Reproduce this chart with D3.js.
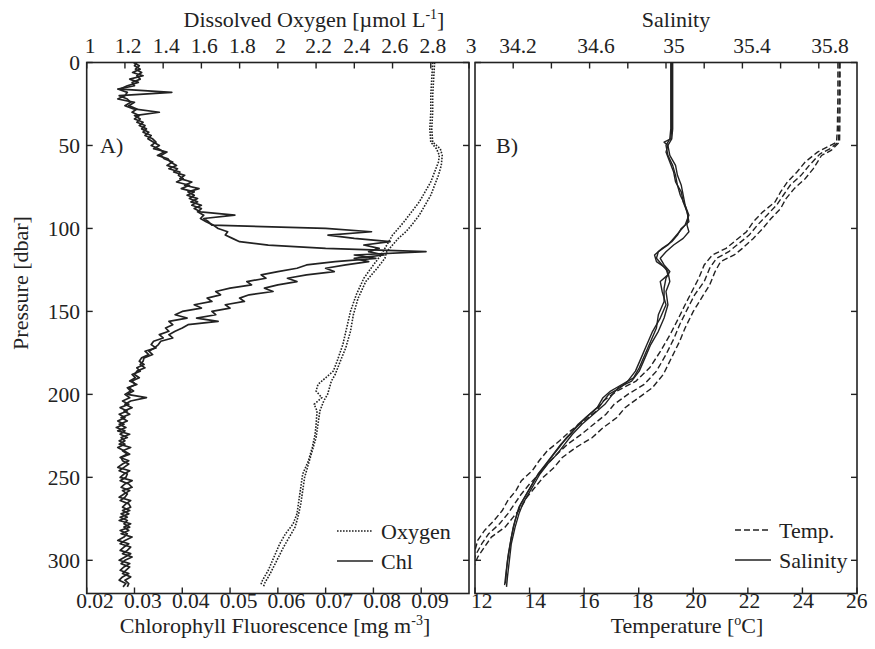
<!DOCTYPE html>
<html>
<head>
<meta charset="utf-8">
<script src="https://cdn.jsdelivr.net/npm/d3@7"></script>
<style>
  body { margin: 0; background: #fff; }
  svg text { font-family: "Liberation Serif", "Times New Roman", serif; fill: #222; }
</style>
</head>
<body>
<svg id="chart" width="875" height="649"></svg>
<script>
// pressure grid of the chlorophyll casts (dbar)
const chlDepth = d3.range(0, 318, 2);

// chlorophyll fluorescence, cast A and cast B (mg m-3), one value per chlDepth level
const chlA = [
  0.0305, 0.0300, 0.0312, 0.0296, 0.0318,  0.0290, 0.0308, 0.0285, 0.0270, 0.0378,
  0.0268, 0.0285, 0.0292, 0.0280, 0.0298,  0.0352, 0.0300, 0.0312, 0.0305, 0.0322,
  0.0315, 0.0330, 0.0322, 0.0338, 0.0345,  0.0335, 0.0350, 0.0362, 0.0348, 0.0370,
  0.0375, 0.0388, 0.0372, 0.0395, 0.0392,  0.0402, 0.0388, 0.0415, 0.0398, 0.0425,
  0.0410, 0.0432, 0.0418, 0.0440, 0.0425,  0.0438, 0.0510, 0.0445, 0.0455, 0.0462,
  0.0700, 0.0796, 0.0705, 0.0760, 0.0835,  0.0780, 0.0812, 0.0790, 0.0822, 0.0760,
  0.0790, 0.0742, 0.0700, 0.0718, 0.0660,  0.0620, 0.0640, 0.0600, 0.0572, 0.0590,
  0.0540, 0.0520, 0.0530, 0.0490, 0.0500,  0.0462, 0.0470, 0.0430, 0.0475, 0.0412,
  0.0400, 0.0385, 0.0372, 0.0380, 0.0355,  0.0350, 0.0342, 0.0330, 0.0338, 0.0320,
  0.0318, 0.0312, 0.0322, 0.0305, 0.0300,  0.0310, 0.0295, 0.0302, 0.0288, 0.0298,
  0.0285, 0.0325, 0.0292, 0.0280, 0.0295,  0.0278, 0.0290, 0.0272, 0.0285, 0.0268,
  0.0282, 0.0265, 0.0290, 0.0272, 0.0280,  0.0268, 0.0292, 0.0275, 0.0285, 0.0270,
  0.0288, 0.0275, 0.0265, 0.0290, 0.0278,  0.0270, 0.0295, 0.0280, 0.0272, 0.0290,
  0.0278, 0.0268, 0.0292, 0.0282, 0.0275,  0.0290, 0.0272, 0.0285, 0.0268, 0.0292,
  0.0278, 0.0288, 0.0272, 0.0295, 0.0280,  0.0270, 0.0292, 0.0285, 0.0275, 0.0295,
  0.0280, 0.0272, 0.0290, 0.0282, 0.0275,  0.0292, 0.0280, 0.0288, 0.0285
];
const chlB = [
  0.0298, 0.0310, 0.0302, 0.0315, 0.0305,  0.0312, 0.0295, 0.0300, 0.0265, 0.0285,
  0.0280, 0.0265, 0.0300, 0.0288, 0.0305,  0.0295, 0.0310, 0.0300, 0.0318, 0.0310,
  0.0325, 0.0318, 0.0335, 0.0328, 0.0340,  0.0352, 0.0340, 0.0368, 0.0355, 0.0362,
  0.0380, 0.0368, 0.0390, 0.0382, 0.0405,  0.0395, 0.0420, 0.0405, 0.0435, 0.0412,
  0.0425, 0.0415, 0.0432, 0.0420, 0.0440,  0.0432, 0.0445, 0.0438, 0.0450, 0.0465,
  0.0475, 0.0495, 0.0490, 0.0505, 0.0520,  0.0580, 0.0700, 0.0910, 0.0760, 0.0805,
  0.0720, 0.0660, 0.0640, 0.0600, 0.0565,  0.0575, 0.0535, 0.0545, 0.0500, 0.0470,
  0.0480, 0.0452, 0.0462, 0.0425, 0.0440,  0.0400, 0.0385, 0.0410, 0.0372, 0.0380,
  0.0365, 0.0372, 0.0352, 0.0360, 0.0340,  0.0335, 0.0345, 0.0322, 0.0330, 0.0315,
  0.0310, 0.0320, 0.0305, 0.0312, 0.0295,  0.0302, 0.0290, 0.0305, 0.0285, 0.0292,
  0.0280, 0.0290, 0.0275, 0.0288, 0.0270,  0.0285, 0.0268, 0.0280, 0.0265, 0.0278,
  0.0262, 0.0280, 0.0270, 0.0285, 0.0268,  0.0280, 0.0265, 0.0278, 0.0290, 0.0272,
  0.0275, 0.0288, 0.0278, 0.0268, 0.0285,  0.0282, 0.0270, 0.0288, 0.0295, 0.0275,
  0.0285, 0.0280, 0.0270, 0.0288, 0.0292,  0.0275, 0.0288, 0.0270, 0.0285, 0.0278,
  0.0290, 0.0270, 0.0285, 0.0278, 0.0265,  0.0288, 0.0278, 0.0270, 0.0292, 0.0280,
  0.0268, 0.0290, 0.0278, 0.0270, 0.0288,  0.0275, 0.0268, 0.0282, 0.0276
];

// dissolved oxygen casts, [pressure, value]
const oxygenA = [
  [0, 2.81], [10, 2.805], [20, 2.80], [30, 2.80], [40, 2.795], [48, 2.80], [52, 2.83], [56, 2.845],
  [60, 2.84], [66, 2.82], [72, 2.80], [78, 2.77], [84, 2.74], [90, 2.70], [96, 2.66], [100, 2.63],
  [104, 2.60], [108, 2.58], [112, 2.56], [116, 2.54], [122, 2.50], [130, 2.45], [140, 2.41],
  [150, 2.38], [160, 2.36], [170, 2.34], [180, 2.31], [186, 2.29], [190, 2.25], [194, 2.21],
  [198, 2.20], [202, 2.23], [206, 2.19], [210, 2.205], [218, 2.20], [224, 2.195], [232, 2.18],
  [240, 2.16], [248, 2.13], [256, 2.12], [264, 2.11], [272, 2.10], [278, 2.08], [284, 2.04],
  [290, 2.01], [298, 1.98], [306, 1.95], [312, 1.92], [315, 1.91]
];
const oxygenB = [
  [0, 2.82], [10, 2.815], [20, 2.81], [30, 2.81], [40, 2.805], [48, 2.81], [52, 2.85], [56, 2.86],
  [62, 2.855], [68, 2.84], [74, 2.82], [80, 2.80], [86, 2.77], [92, 2.74], [98, 2.70], [102, 2.67],
  [106, 2.63], [110, 2.60], [114, 2.57], [118, 2.56], [124, 2.52], [132, 2.46], [142, 2.42],
  [152, 2.395], [162, 2.38], [172, 2.355], [182, 2.32], [188, 2.30], [192, 2.28], [196, 2.27],
  [200, 2.26], [204, 2.24], [210, 2.22], [218, 2.21], [226, 2.20], [234, 2.18], [242, 2.16],
  [250, 2.14], [258, 2.13], [266, 2.12], [274, 2.105], [280, 2.09], [286, 2.06], [292, 2.03],
  [300, 1.995], [308, 1.96], [314, 1.93], [316, 1.925]
];

// temperature casts (degC), [pressure, value]
const temp1 = [
  [0, 25.30], [20, 25.30], [40, 25.28], [48, 25.25], [51, 24.9], [54, 24.55], [60, 24.1], [66, 23.8],
  [72, 23.45], [78, 23.2], [84, 23.0], [90, 22.55], [96, 22.2], [102, 21.95], [108, 21.5], [112, 21.2],
  [116, 20.7], [122, 20.4], [130, 20.2], [138, 19.95], [146, 19.7], [156, 19.4], [164, 19.15],
  [174, 18.8], [184, 18.4], [192, 17.9], [198, 17.2], [204, 16.7], [210, 16.45], [216, 16.0],
  [222, 15.5], [228, 15.1], [234, 14.65], [240, 14.35], [246, 14.1], [252, 13.7], [258, 13.5],
  [264, 13.2], [270, 13.0], [276, 12.7], [282, 12.35], [288, 12.1], [294, 12.0], [300, 11.9], [306, 11.8]
];
const temp2 = [
  [0, 25.35], [20, 25.35], [40, 25.33], [48, 25.32], [52, 25.0], [55, 24.65], [62, 24.25], [68, 23.95],
  [74, 23.55], [80, 23.3], [86, 23.05], [92, 22.7], [98, 22.35], [104, 22.05], [110, 21.6], [114, 21.3],
  [118, 20.85], [124, 20.6], [132, 20.4], [140, 20.05], [148, 19.8], [158, 19.5], [166, 19.3],
  [176, 19.0], [186, 18.65], [194, 18.2], [200, 17.6], [206, 17.1], [212, 16.8], [218, 16.35],
  [224, 15.9], [230, 15.4], [236, 15.0], [242, 14.65], [248, 14.35], [254, 14.0], [260, 13.7],
  [266, 13.45], [272, 13.2], [278, 12.9], [284, 12.5], [290, 12.25], [296, 12.05], [302, 11.9], [308, 11.8]
];
const temp3 = [
  [0, 25.38], [20, 25.38], [40, 25.37], [48, 25.36], [53, 25.05], [56, 24.7], [64, 24.4], [70, 24.1],
  [76, 23.7], [82, 23.4], [88, 23.2], [94, 22.85], [100, 22.55], [106, 22.2], [112, 21.8], [116, 21.5],
  [120, 21.0], [126, 20.8], [134, 20.6], [142, 20.3], [150, 20.0], [160, 19.7], [168, 19.5],
  [178, 19.2], [188, 18.9], [196, 18.5], [202, 18.0], [208, 17.5], [214, 17.2], [220, 16.7],
  [226, 16.3], [232, 15.7], [238, 15.2], [244, 14.9], [250, 14.5], [256, 14.2], [262, 13.9],
  [268, 13.7], [274, 13.4], [280, 13.1], [286, 12.6], [292, 12.35], [298, 12.1], [304, 11.95], [310, 11.85]
];

// salinity casts, [pressure, value]
const sal1 = [
  [0, 35.03], [20, 35.03], [40, 35.03], [46, 35.025], [48, 34.99], [50, 35.01], [54, 35.00], [60, 35.02],
  [66, 35.04], [72, 35.05], [78, 35.08], [84, 35.09], [90, 35.11], [96, 35.12], [100, 35.08], [104, 35.06],
  [108, 35.03], [112, 34.98], [116, 34.94], [120, 34.95], [124, 35.00], [128, 35.01], [132, 34.97],
  [138, 34.98], [146, 35.00], [154, 34.97], [162, 34.93], [170, 34.90], [178, 34.87], [186, 34.84],
  [192, 34.80], [196, 34.76], [200, 34.70], [206, 34.66], [212, 34.60], [218, 34.54], [224, 34.50],
  [230, 34.45], [236, 34.41], [242, 34.37], [248, 34.33], [254, 34.30], [260, 34.27], [266, 34.24],
  [272, 34.22], [280, 34.20], [290, 34.185], [300, 34.17], [310, 34.16], [315, 34.155]
];
const sal2 = [
  [0, 35.025], [20, 35.025], [40, 35.025], [46, 35.02], [50, 35.00], [56, 35.01], [62, 35.035], [68, 35.05],
  [74, 35.06], [80, 35.075], [86, 35.10], [92, 35.115], [98, 35.11], [102, 35.12], [106, 35.09], [110, 35.04],
  [114, 35.00], [118, 34.97], [122, 34.99], [126, 35.02], [130, 35.00], [136, 34.99], [144, 34.99],
  [152, 34.96], [160, 34.95], [168, 34.92], [176, 34.89], [184, 34.86], [190, 34.83], [196, 34.74],
  [198, 34.71], [202, 34.67], [208, 34.64], [214, 34.58], [220, 34.53], [226, 34.48], [232, 34.44],
  [238, 34.40], [244, 34.36], [250, 34.32], [256, 34.29], [262, 34.26], [268, 34.23], [276, 34.21],
  [286, 34.19], [296, 34.175], [306, 34.165], [314, 34.16]
];
const sal3 = [
  [0, 35.035], [20, 35.035], [40, 35.035], [46, 35.03], [50, 35.01], [56, 35.02], [62, 35.05], [68, 35.06],
  [74, 35.08], [80, 35.09], [86, 35.10], [92, 35.12], [98, 35.10], [102, 35.07], [106, 35.04], [110, 35.01],
  [114, 34.96], [118, 34.95], [122, 34.98], [126, 35.01], [132, 35.02], [138, 35.00], [146, 35.01],
  [154, 34.99], [162, 34.96], [170, 34.92], [178, 34.89], [186, 34.86], [192, 34.82], [196, 34.75],
  [200, 34.72], [206, 34.68], [212, 34.62], [218, 34.56], [224, 34.51], [230, 34.47], [236, 34.43],
  [242, 34.38], [248, 34.34], [254, 34.31], [260, 34.28], [266, 34.25], [272, 34.23], [280, 34.21],
  [290, 34.19], [300, 34.18], [310, 34.17], [316, 34.165]
];

// tick values
const pressureTicks = [0, 50, 100, 150, 200, 250, 300];
const oxygenTicks = [1, 1.2, 1.4, 1.6, 1.8, 2, 2.2, 2.4, 2.6, 2.8, 3];
const chlTicks = [0.02, 0.03, 0.04, 0.05, 0.06, 0.07, 0.08, 0.09];
const salinityTicks = [34.2, 34.6, 35, 35.4, 35.8];
const salinityMinorTicks = [34.2, 34.4, 34.6, 34.8, 35, 35.2, 35.4, 35.6, 35.8];
const tempTicks = [12, 14, 16, 18, 20, 22, 24, 26];

const svg = d3.select("#chart");
svg.append("rect").attr("width", 875).attr("height", 649).attr("fill", "#fff");

const yTop = 62.5, yBottom = 593.5;
const panelA = { x0: 86.7, x1: 469 };
const panelB = { x0: 475, x1: 857 };

const y = d3.scaleLinear().domain([0, 320]).range([yTop, yBottom]);
const xChl = d3.scaleLinear().domain([0.02, 0.1]).range([panelA.x0, panelA.x1]);
const xOx = d3.scaleLinear().domain([1, 3]).range([panelA.x0, panelA.x1]);
const xTemp = d3.scaleLinear().domain([12, 26]).range([panelB.x0, panelB.x1]);
const xSal = d3.scaleLinear().domain([34, 36]).range([panelB.x0, panelB.x1]);

const ink = "#222";
const tickLen = 6;
const tickFont = "21.5px";
const titleFont = "22px";

// clip regions for each panel
const defs = svg.append("defs");
defs.append("clipPath").attr("id", "clipA").append("rect")
  .attr("x", panelA.x0).attr("y", yTop).attr("width", panelA.x1 - panelA.x0).attr("height", yBottom - yTop);
defs.append("clipPath").attr("id", "clipB").append("rect")
  .attr("x", panelB.x0).attr("y", yTop).attr("width", panelB.x1 - panelB.x0).attr("height", yBottom - yTop);

function drawFrame(p) {
  svg.append("rect")
    .attr("x", p.x0).attr("y", yTop)
    .attr("width", p.x1 - p.x0).attr("height", yBottom - yTop)
    .attr("fill", "none").attr("stroke", ink).attr("stroke-width", 1.6);
  // left and right inward ticks
  pressureTicks.forEach(v => {
    svg.append("line").attr("x1", p.x0).attr("x2", p.x0 + tickLen)
      .attr("y1", y(v)).attr("y2", y(v)).attr("stroke", ink).attr("stroke-width", 1.4);
    svg.append("line").attr("x1", p.x1).attr("x2", p.x1 - tickLen)
      .attr("y1", y(v)).attr("y2", y(v)).attr("stroke", ink).attr("stroke-width", 1.4);
  });
}

function hTicks(scale, values, atY, dir) {
  values.forEach(v => {
    svg.append("line").attr("x1", scale(v)).attr("x2", scale(v))
      .attr("y1", atY).attr("y2", atY + dir * tickLen)
      .attr("stroke", ink).attr("stroke-width", 1.4);
  });
}

function tickLabels(values, labelX, atY) {
  svg.append("g").selectAll("text")
    .data(values)
    .join("text")
    .attr("x", d => labelX(d))
    .attr("y", atY)
    .attr("text-anchor", "middle")
    .style("font-size", tickFont)
    .text(d => d);
}

drawFrame(panelA);
drawFrame(panelB);

// top / bottom ticks of panel A
hTicks(xOx, oxygenTicks, yTop, 1);
hTicks(xChl, chlTicks, yBottom, -1);
// top / bottom ticks of panel B
hTicks(xSal, salinityMinorTicks, yTop, 1);
hTicks(xTemp, tempTicks, yBottom, -1);

// tick labels sit a little right of their ticks, as in the original figure
tickLabels(oxygenTicks, d3.scaleLinear().domain([1, 3]).range([90, 471]), 53);
tickLabels(chlTicks, d3.scaleLinear().domain([0.02, 0.09]).range([95, 430]), 608);
tickLabels(salinityTicks, d3.scaleLinear().domain([34.2, 35.8]).range([518, 830]), 53);
tickLabels(tempTicks, d3.scaleLinear().domain([12, 26]).range([481.7, 856.7]), 608);

svg.append("g").selectAll("text")
  .data(pressureTicks)
  .join("text")
  .attr("x", 80)
  .attr("y", d => y(d))
  .attr("dy", "0.35em")
  .attr("text-anchor", "end")
  .style("font-size", tickFont)
  .text(d => d);

// axis titles
const oxTitle = svg.append("text").attr("x", 314).attr("y", 27)
  .attr("text-anchor", "middle").style("font-size", titleFont);
oxTitle.append("tspan").text("Dissolved Oxygen [µmol L");
oxTitle.append("tspan").attr("dy", -8).style("font-size", "14px").text("-1");
oxTitle.append("tspan").attr("dy", 8).text("]");

svg.append("text").attr("x", 676).attr("y", 27)
  .attr("text-anchor", "middle").style("font-size", titleFont).text("Salinity");

const chlTitle = svg.append("text").attr("x", 275).attr("y", 633)
  .attr("text-anchor", "middle").style("font-size", titleFont);
chlTitle.append("tspan").text("Chlorophyll Fluorescence [mg m");
chlTitle.append("tspan").attr("dy", -8).style("font-size", "14px").text("-3");
chlTitle.append("tspan").attr("dy", 8).text("]");

const tTitle = svg.append("text").attr("x", 687).attr("y", 633)
  .attr("text-anchor", "middle").style("font-size", titleFont);
tTitle.append("tspan").text("Temperature [");
tTitle.append("tspan").attr("dy", -8).style("font-size", "14px").text("o");
tTitle.append("tspan").attr("dy", 8).text("C]");

svg.append("text")
  .attr("transform", "translate(28, 283) rotate(-90)")
  .attr("text-anchor", "middle").style("font-size", titleFont)
  .text("Pressure [dbar]");

svg.append("text").attr("x", 100).attr("y", 153).style("font-size", titleFont).text("A)");
svg.append("text").attr("x", 496).attr("y", 153).style("font-size", titleFont).text("B)");

// profiles
const chlLine = d3.line().x(d => xChl(d[1])).y(d => y(d[0]));
const oxLine = d3.line().x(d => xOx(d[1])).y(d => y(d[0]));
const tempLine = d3.line().x(d => xTemp(d[1])).y(d => y(d[0]));
const salLine = d3.line().x(d => xSal(d[1])).y(d => y(d[0]));

const gA = svg.append("g").attr("clip-path", "url(#clipA)");
const gB = svg.append("g").attr("clip-path", "url(#clipB)");

[oxygenA, oxygenB].forEach(cast => {
  gA.append("path").attr("d", oxLine(cast))
    .attr("fill", "none").attr("stroke", ink).attr("stroke-width", 1.6)
    .attr("stroke-dasharray", "1.6,1.4");
});

[chlA, chlB].forEach(cast => {
  const pts = chlDepth.map((p, i) => [p, cast[i]]);
  gA.append("path").attr("d", chlLine(pts))
    .attr("fill", "none").attr("stroke", ink).attr("stroke-width", 1.7)
    .attr("stroke-linejoin", "round");
});

[temp1, temp2, temp3].forEach(cast => {
  gB.append("path").attr("d", tempLine(cast))
    .attr("fill", "none").attr("stroke", ink).attr("stroke-width", 1.4)
    .attr("stroke-dasharray", "6,3");
});

[sal1, sal2, sal3].forEach(cast => {
  gB.append("path").attr("d", salLine(cast))
    .attr("fill", "none").attr("stroke", ink).attr("stroke-width", 1.4)
    .attr("stroke-linejoin", "round");
});

// legends
function legendItem(x, yPos, dash, label) {
  svg.append("line")
    .attr("x1", x).attr("x2", x + 36).attr("y1", yPos).attr("y2", yPos)
    .attr("stroke", ink).attr("stroke-width", 1.6)
    .attr("stroke-dasharray", dash);
  svg.append("text").attr("x", x + 44).attr("y", yPos).attr("dy", "0.35em")
    .style("font-size", titleFont).text(label);
}

legendItem(337, 531, "1.6,1.4", "Oxygen");
legendItem(337, 561, null, "Chl");
legendItem(735, 530, "6,3", "Temp.");
legendItem(735, 560, null, "Salinity");
</script>
</body>
</html>
